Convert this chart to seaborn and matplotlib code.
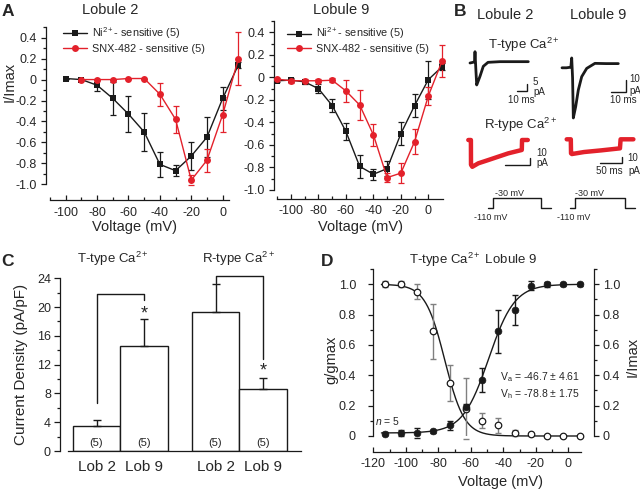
import numpy as np
import pandas as pd
import matplotlib
matplotlib.use("Agg")
import matplotlib.pyplot as plt
import seaborn as sns
from matplotlib.ticker import MultipleLocator, FixedLocator

sns.set_style("ticks")
plt.rcParams["font.family"] = ["Liberation Sans", "DejaVu Sans"]
plt.rcParams["mathtext.fontset"] = "custom"
plt.rcParams["mathtext.rm"] = "Liberation Sans"
plt.rcParams["mathtext.it"] = "Liberation Sans:italic"
plt.rcParams["axes.unicode_minus"] = False

W, H = 640, 491
RED = "#e3212b"
BLK = "#1a1a1a"
GRY = "#808080"

# ---------------- data: A (I/V curves) ----------------
volt_l2_ni = [-100, -90, -80, -70, -60, -50, -40, -30, -20, -10, 0, 10]
ni_l2 = [0.01, 0.0, -0.054, -0.18, -0.33, -0.50, -0.81, -0.87, -0.73, -0.55, -0.18, 0.14]
ni_l2_err = [0, 0, 0.055, 0.16, 0.17, 0.18, 0.12, 0.05, 0.13, 0.19, 0.11, 0.03]
volt_l2_snx = [-90, -80, -70, -60, -50, -40, -30, -20, -10, 0, 10]
snx_l2 = [0.0, 0.0, 0.0, 0.01, 0.01, -0.14, -0.38, -0.96, -0.77, -0.335, 0.20]
snx_l2_err = [0, 0, 0, 0, 0, 0.11, 0.13, 0.045, 0.11, 0.17, 0.25]

volt_l9 = [-110, -100, -90, -80, -70, -60, -50, -40, -30, -20, -10, 0, 10]
ni_l9 = [-0.03, -0.024, -0.04, -0.10, -0.25, -0.48, -0.79, -0.86, -0.81, -0.50, -0.25, -0.02, 0.095]
ni_l9_err = [0.01, 0.02, 0.02, 0.04, 0.06, 0.075, 0.10, 0.05, 0.07, 0.10, 0.10, 0.17, 0.03]
snx_l9 = [-0.015, -0.03, -0.03, -0.03, -0.025, -0.12, -0.245, -0.51, -0.89, -0.85, -0.57, -0.165, 0.145]
snx_l9_err = [0.01, 0.02, 0.015, 0.015, 0.02, 0.10, 0.13, 0.10, 0.04, 0.09, 0.11, 0.08, 0.14]

# ---------------- data: B (example traces) ----------------
t_T_l2 = [0, 3, 4.5, 5, 5.8, 6.7, 8, 10, 13.3, 18, 30, 45, 58.3]
i_T_l2 = [0, 0.5, 1, 8.5, -4, -16.5, -14, -10, -2.5, 0.5, 1, 1, 1]
t_T_l9 = [0, 3, 6, 6.6, 7.2, 7.7, 9.3, 11.1, 13.4, 16.8, 22.4, 30, 38.3]
i_T_l9 = [-1.5, -1.5, -1, 6.7, -10, -43.3, -33.9, -20, -8.9, -2, 2.2, 2, 2]
t_R_l2 = [0, 5.2, 5.4, 8, 20, 40, 60, 80, 107, 107.5, 119]
i_R_l2 = [0, 0, -37, -40, -34.8, -29.9, -24.9, -19.9, -14.9, 0, 0]
t_R_l9 = [0, 9.5, 10, 12, 40, 80, 123, 124.5, 154]
i_R_l9 = [0, 0, -21, -22, -19, -16.5, -13.5, 0, 0]
t_step_l2 = [0, 10, 10, 105.4, 105.4, 125.4]
v_step_l2 = [-110, -110, -30, -30, -110, -110]
t_step_l9 = [0, 11.5, 11.5, 126.9, 126.9, 150]
v_step_l9 = [-110, -110, -30, -30, -110, -110]

# ---------------- data: C (current density) ----------------
bar_labels = ["Lob 2", "Lob 9", "Lob 2", "Lob 9"]
density = [3.5, 14.58, 19.26, 8.56]
density_err = [0.8, 3.7, 3.9, 1.65]
n_cells = [5, 5, 5, 5]

# ---------------- data: D (activation / inactivation) ----------------
d_volt = [-113, -103, -93, -83, -73, -63, -53, -43, -33, -23, -13, -3, 7]
act = [0.015, 0.02, 0.02, 0.03, 0.07, 0.19, 0.37, 0.69, 0.83, 0.99, 1.0, 1.0, 1.0]
act_err = [0.01, 0.02, 0.03, 0.01, 0.03, 0.02, 0.08, 0.14, 0.10, 0.03, 0.015, 0.01, 0.01]
inact = [1.0, 1.0, 0.95, 0.69, 0.35, 0.18, 0.10, 0.07, 0.02, 0.01, 0.0, 0.0, 0.0]
inact_err = [0.02, 0.02, 0.05, 0.18, 0.12, 0.20, 0.05, 0.05, 0.02, 0.01, 0.0, 0.0, 0.0]
act_mid, act_k, act_base = -49.0, 8.0, 0.02
inact_mid, inact_k = -76.0, 6.0

fig = plt.figure(figsize=(W / 100, H / 100), dpi=100)


def px_axes(l, t, r, b):
    return fig.add_axes([l / W, 1 - b / H, (r - l) / W, (b - t) / H])


def px_to_axes(ax, x, y):
    bb = ax.get_position()
    return ((x / W - bb.x0) / bb.width, ((1 - y / H) - bb.y0) / bb.height)


def style(ax, ylab_pad=3, xlab_pad=4, fs=9):
    for s in ("top", "right"):
        ax.spines[s].set_visible(False)
    for s in ("left", "bottom"):
        ax.spines[s].set_linewidth(0.9)
        ax.spines[s].set_color(BLK)
    ax.tick_params(which="both", width=0.9, color=BLK, labelsize=fs)
    ax.tick_params(axis="y", which="major", direction="out", length=3.5, pad=ylab_pad)
    ax.tick_params(axis="y", which="minor", direction="out", length=2)
    ax.tick_params(axis="x", which="major", direction="in", length=3.5, pad=xlab_pad)
    ax.tick_params(axis="x", which="minor", direction="in", length=2)


def fmt(v):
    return "0" if abs(v) < 1e-9 else f"{v:.1f}"


def set_labels(ax, xlab, xpos, ylab, ypos, fs=10.5):
    ax.set_xlabel(xlab, fontsize=fs)
    ax.xaxis.set_label_coords(*px_to_axes(ax, *xpos))
    ax.xaxis.label.set_va("center")
    ax.set_ylabel(ylab, fontsize=fs)
    if ylab:
        ax.yaxis.set_label_coords(*px_to_axes(ax, *ypos))
        ax.yaxis.label.set_va("center")


def trace(ax, x, y, color, lw):
    sns.lineplot(x=x, y=y, ax=ax, color=color, lw=lw, sort=False, estimator=None)


# ================= Panel A =================
def iv_panel(box, xlim, bounds, offset, vn, ni, ni_e, vs, snx, snx_e, title, tx, legend_px, xlab_px, ylab):
    ax = px_axes(*box)
    ax.errorbar(vn, ni, yerr=ni_e, fmt="none", ecolor=BLK, elinewidth=0.9, capsize=2, capthick=0.9, zorder=2)
    ax.errorbar(vs, snx, yerr=snx_e, fmt="none", ecolor=RED, elinewidth=0.9, capsize=2, capthick=0.9, zorder=2)
    sns.lineplot(x=vn, y=ni, ax=ax, color=BLK, lw=1, marker="s", markersize=4.5,
                 markeredgewidth=0, label="Ni$^{\\mathregular{2+}}$- sensitive (5)", zorder=3)
    sns.lineplot(x=vs, y=snx, ax=ax, color=RED, lw=1, marker="o", markersize=5,
                 markeredgewidth=0, label="SNX-482 - sensitive (5)", zorder=3)
    for ln in ax.lines:
        ln.set_clip_on(False)
    ax.set_xlim(*xlim)
    ax.set_ylim(-1.0, 0.5)
    style(ax, ylab_pad=3.5, xlab_pad=4.5)
    ax.spines["bottom"].set_position(("outward", offset))
    ax.spines["bottom"].set_bounds(*bounds)
    ax.xaxis.set_major_locator(FixedLocator([-100, -80, -60, -40, -20, 0]))
    ax.xaxis.set_minor_locator(FixedLocator([-110, -90, -70, -50, -30, -10]))
    yt = [-1.0, -0.8, -0.6, -0.4, -0.2, 0, 0.2, 0.4]
    ax.yaxis.set_major_locator(FixedLocator(yt))
    ax.set_yticklabels([fmt(v) for v in yt])
    ax.yaxis.set_minor_locator(MultipleLocator(0.1))
    set_labels(ax, "Voltage (mV)", xlab_px, "I/Imax" if ylab else "", (10, 82))
    ax.legend(loc="upper left", bbox_to_anchor=(legend_px[0] / W, 1 - legend_px[1] / H),
              bbox_transform=fig.transFigure, frameon=False, fontsize=7.8, handlelength=2.2,
              handletextpad=0.45, borderaxespad=0, borderpad=0, labelspacing=0.25)
    fig.text(tx / W, 1 - 10 / H, title, ha="center", va="center", fontsize=10.5)
    return ax


iv_panel((46.1, 27.2, 241.5, 184.3), (-112.5, 12), (-110, 4), 11.5,
         volt_l2_ni, ni_l2, ni_l2_err, volt_l2_snx, snx_l2, snx_l2_err,
         "Lobule 2", 110, (63, 25), (134, 227), True)
iv_panel((274.1, 21.1, 444.8, 190), (-112.3, 12), (-110, 11), 6.5,
         volt_l9, ni_l9, ni_l9_err, volt_l9, snx_l9, snx_l9_err,
         "Lobule 9", 341, (287, 25.5), (360, 227), False)

# ================= Panel B =================
B_BOX = (450, 22, 640, 238)


def trace_axes(x0, y0, sx, sy):
    ax = px_axes(*B_BOX)
    l, t, r, b = B_BOX
    ax.set_xlim((l - x0) / sx, (r - x0) / sx)
    ax.set_ylim((y0 - b) / sy, (y0 - t) / sy)
    ax.axis("off")
    ax.patch.set_alpha(0)
    return ax


def scale_bar(ax, t0, dt, i0, di, color=BLK):
    ax.plot([t0, t0 + dt, t0 + dt], [i0, i0, i0 + di], color=color, lw=1, solid_joinstyle="miter")


# T-type, lobule 2
ax = trace_axes(470, 63, 1.0, 1.33)
trace(ax, t_T_l2, i_T_l2, BLK, 2.0)
scale_bar(ax, 47, 10, -21, 5)
ax.text(63, -14.5, "5", fontsize=7, ha="left", va="center")
ax.text(63, -21.5, "pA", fontsize=7, ha="left", va="center")
ax.text(51, -27.5, "10 ms", fontsize=7, ha="center", va="center")

# T-type, lobule 9
ax = trace_axes(562, 66, 1.47, 1.2)
trace(ax, t_T_l9, i_T_l9, BLK, 2.0)
scale_bar(ax, 33.3, 10, -21.5, 10)
ax.text(45.5, -10.5, "10", fontsize=7, ha="left", va="center")
ax.text(46, -20.5, "pA", fontsize=7, ha="left", va="center")
ax.text(42, -28.5, "10 ms", fontsize=7, ha="center", va="center")

# R-type, lobule 2
ax = trace_axes(468.3, 140, 0.5, 0.67)
trace(ax, t_R_l2, i_R_l2, RED, 3.2)
scale_bar(ax, 73.4, 50, -37.3, 10)
ax.text(136, -20, "10", fontsize=7, ha="left", va="center")
ax.text(136, -35, "pA", fontsize=7, ha="left", va="center")

# R-type, lobule 9
ax = trace_axes(566.7, 139.3, 0.433, 0.67)
trace(ax, t_R_l9, i_R_l9, RED, 3.2)
scale_bar(ax, 76.9, 50, -36, 10)
ax.text(140, -28, "10", fontsize=7, ha="left", va="center")
ax.text(142, -48, "pA", fontsize=7, ha="left", va="center")
ax.text(98, -48, "50 ms", fontsize=7, ha="center", va="center")

# voltage protocols
ax = trace_axes(488.3, 208.3 - 110 * 0.125, 0.5, 0.125)
trace(ax, t_step_l2, v_step_l2, BLK, 1.0)
ax.text(43, 8, "-30 mV", fontsize=6.5, ha="center", va="center")
ax.text(5, -184, "-110 mV", fontsize=6.5, ha="center", va="center")
ax = trace_axes(570, 208.3 - 110 * 0.125, 0.433, 0.125)
trace(ax, t_step_l9, v_step_l9, BLK, 1.0)
ax.text(46, 8, "-30 mV", fontsize=6.5, ha="center", va="center")
ax.text(8, -184, "-110 mV", fontsize=6.5, ha="center", va="center")

fig.text(505 / W, 1 - 15 / H, "Lobule 2", ha="center", va="center", fontsize=10.5)
fig.text(598 / W, 1 - 15 / H, "Lobule 9", ha="center", va="center", fontsize=10.5)
fig.text(524 / W, 1 - 45 / H, "T-type Ca$^{\\mathregular{2+}}$", ha="center", va="center", fontsize=9.5)
fig.text(521 / W, 1 - 125 / H, "R-type Ca$^{\\mathregular{2+}}$", ha="center", va="center", fontsize=9.5)

# ================= Panel C =================
bar_pos = [0, 1, 2.5, 3.5]
axc = px_axes(60, 278.3, 301.2, 451)
df_c = pd.DataFrame({"pos": bar_pos, "density": density})
sns.barplot(data=df_c, x="pos", y="density", ax=axc, native_scale=True, width=1.0,
            color="white", saturation=1, edgecolor=BLK, linewidth=1, errorbar=None, zorder=2)
axc.errorbar(bar_pos, density, yerr=[np.zeros(4), density_err], fmt="none", ecolor=BLK,
             elinewidth=1, capsize=3.2, capthick=1, zorder=3)
axc.set_xlim(-0.767, 4.3)
axc.set_ylim(0, 24)
style(axc, ylab_pad=2.5, xlab_pad=6.5, fs=9)
axc.spines["bottom"].set_bounds(-0.6, 4.3)
axc.tick_params(axis="y", which="major", length=4)
axc.yaxis.set_major_locator(MultipleLocator(4))
axc.yaxis.set_minor_locator(MultipleLocator(2))
axc.set_xticks(bar_pos)
axc.set_xticklabels(bar_labels, fontsize=11)
axc.tick_params(axis="x", which="minor", length=0)
set_labels(axc, "", (0, 0), "Current Density (pA/pF)", (21, 364), fs=11)
for p, n in zip(bar_pos, n_cells):
    axc.text(p, 1.15, f"({n})", ha="center", va="center", fontsize=8)
tops = [d + e for d, e in zip(density, density_err)]
# significance brackets
axc.plot([bar_pos[0], bar_pos[0], bar_pos[1], bar_pos[1]],
         [tops[0] + 2.4, tops[1] + 3.5, tops[1] + 3.5, tops[1] + 2.7], color=BLK, lw=1, clip_on=False)
axc.plot([bar_pos[2], bar_pos[2], bar_pos[3], bar_pos[3]],
         [tops[2] + 0.2, tops[2] + 1.15, tops[2] + 1.15, tops[3] + 2.6], color=BLK, lw=1, clip_on=False)
axc.text(bar_pos[1], tops[1] + 0.8, "*", ha="center", va="center", fontsize=13)
axc.text(bar_pos[3], tops[3] + 0.9, "*", ha="center", va="center", fontsize=13)
fig.text(113 / W, 1 - 259 / H, "T-type Ca$^{\\mathregular{2+}}$", ha="center", va="center", fontsize=9.5)
fig.text(239 / W, 1 - 259 / H, "R-type Ca$^{\\mathregular{2+}}$", ha="center", va="center", fontsize=9.5)

# ================= Panel D =================
axd = px_axes(373.3, 269.1, 594.3, 436)
v_fit = np.linspace(-115, 7, 300)
act_fit = act_base + (1 - act_base) / (1 + np.exp((act_mid - v_fit) / act_k))
inact_fit = 1 / (1 + np.exp((v_fit - inact_mid) / inact_k))
sns.lineplot(x=v_fit, y=act_fit, ax=axd, color=BLK, lw=1)
sns.lineplot(x=v_fit, y=inact_fit, ax=axd, color=BLK, lw=1)
axd.errorbar(d_volt, inact, yerr=inact_err, fmt="none", ecolor=GRY, elinewidth=1, capsize=2.3, capthick=1, zorder=3)
axd.errorbar(d_volt, act, yerr=act_err, fmt="none", ecolor=BLK, elinewidth=1, capsize=2.3, capthick=1, zorder=3)
sns.scatterplot(x=d_volt, y=inact, ax=axd, color="white", edgecolor=BLK, linewidth=0.9, s=22, zorder=4, clip_on=False)
sns.scatterplot(x=d_volt, y=act, ax=axd, color=BLK, edgecolor=BLK, linewidth=0.5, s=24, zorder=5, clip_on=False)
for ln in axd.lines:
    ln.set_clip_on(False)
axd.set_xlim(-120, 16)
axd.set_ylim(0, 1.1)
style(axd, ylab_pad=9, xlab_pad=4.5, fs=9)
axd.spines["bottom"].set_position(("outward", 11.5))
axd.spines["bottom"].set_bounds(-120, 8)
axd.spines["left"].set_bounds(0, 1.1)
axd.xaxis.set_major_locator(FixedLocator([-120, -100, -80, -60, -40, -20, 0]))
axd.xaxis.set_minor_locator(FixedLocator([-110, -90, -70, -50, -30, -10]))
ytd = [0, 0.2, 0.4, 0.6, 0.8, 1.0]
axd.yaxis.set_major_locator(FixedLocator(ytd))
axd.set_yticklabels([fmt(v) for v in ytd])
axd.yaxis.set_minor_locator(MultipleLocator(0.1))
set_labels(axd, "Voltage (mV)", (501, 482), "g/gmax", (331, 360))
axd.text(-42, 0.39, "V$_{\\mathregular{a}}$ = -46.7 ± 4.61", fontsize=7.5, ha="left", va="center")
axd.text(-42, 0.277, "V$_{\\mathregular{h}}$ = -78.8 ± 1.75", fontsize=7.5, ha="left", va="center")
axd.text(-119, 0.10, "$n$ = 5", fontsize=7.5, ha="left", va="center")

axr = axd.twinx()
axr.set_ylim(0, 1.1)
for s in ("top", "left", "bottom"):
    axr.spines[s].set_visible(False)
axr.spines["right"].set_linewidth(0.9)
axr.spines["right"].set_color(BLK)
axr.tick_params(which="both", width=0.9, color=BLK, labelsize=9, direction="out")
axr.tick_params(which="major", length=3.5, pad=2.5)
axr.tick_params(which="minor", length=2)
axr.yaxis.set_major_locator(FixedLocator(ytd))
axr.set_yticklabels([fmt(v) for v in ytd])
axr.yaxis.set_minor_locator(MultipleLocator(0.1))
axr.set_ylabel("I/Imax", fontsize=10.5)
axr.yaxis.set_label_coords(*px_to_axes(axr, 633, 357))
axr.yaxis.label.set_va("center")
fig.text(473 / W, 1 - 260 / H, "T-type Ca$^{\\mathregular{2+}}$ Lobule 9", ha="center", va="center", fontsize=9.5)

# panel letters
for letter, x, y in [("A", 8, 12), ("B", 460, 12), ("C", 8, 261), ("D", 327, 261)]:
    fig.text(x / W, 1 - y / H, letter, ha="center", va="center", fontsize=12.5, fontweight="bold")

fig.savefig("out.png", dpi=100)
